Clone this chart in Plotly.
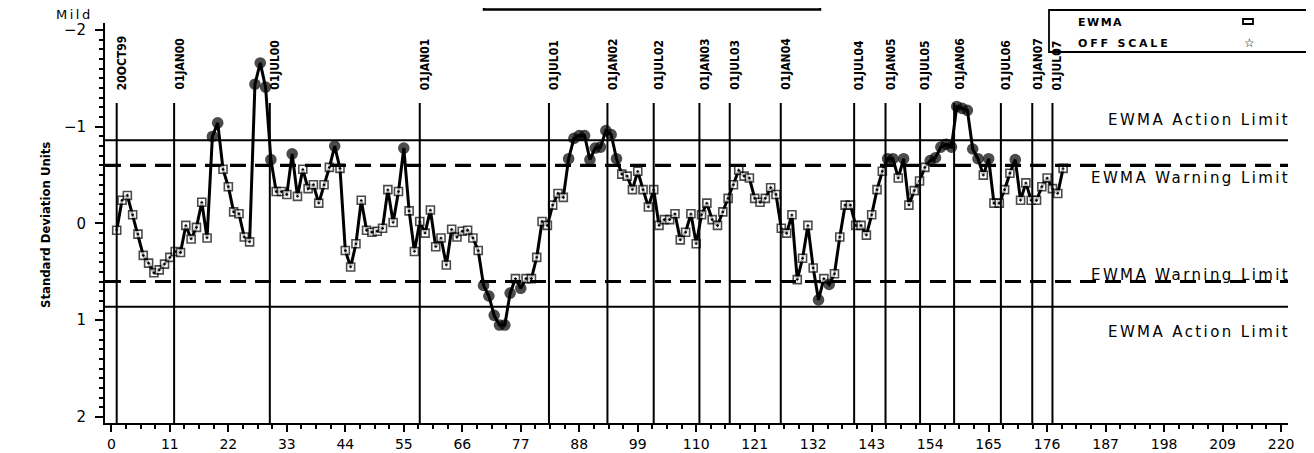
import plotly.graph_objects as go

# ---------------- data ----------------
ewma = [0.07, -0.24, -0.29, -0.09, 0.11, 0.33, 0.41, 0.51, 0.48, 0.42,
        0.35, 0.29, 0.30, 0.02, 0.16, 0.04, -0.22, 0.15, -0.90, -1.04,
        -0.56, -0.38, -0.12, -0.10, 0.14, 0.19, -1.44, -1.66, -1.41, -0.66,
        -0.33, -0.33, -0.30, -0.72, -0.28, -0.56, -0.36, -0.40, -0.21, -0.40,
        -0.58, -0.80, -0.57, 0.28, 0.45, 0.21, -0.24, 0.07, 0.09, 0.08,
        0.05, -0.35, -0.01, -0.33, -0.78, -0.13, 0.29, -0.02, 0.10, -0.14,
        0.24, 0.15, 0.43, 0.06, 0.14, 0.08, 0.07, 0.15, 0.28, 0.64,
        0.75, 0.95, 1.05, 1.05, 0.72, 0.57, 0.67, 0.57, 0.57, 0.35,
        -0.02, 0.02, -0.19, -0.31, -0.27, -0.67, -0.88, -0.91, -0.91, -0.66,
        -0.78, -0.79, -0.96, -0.92, -0.67, -0.51, -0.49, -0.35, -0.54, -0.35,
        -0.17, -0.35, 0.02, -0.04, -0.04, -0.10, 0.17, 0.09, -0.10, 0.21,
        -0.09, -0.21, -0.04, 0.02, -0.12, -0.26, -0.40, -0.55, -0.49, -0.47,
        -0.26, -0.22, -0.26, -0.37, -0.30, 0.05, 0.10, -0.09, 0.58, 0.36,
        0.02, 0.46, 0.79, 0.57, 0.63, 0.52, 0.14, -0.19, -0.19, 0.02,
        0.02, 0.12, -0.09, -0.35, -0.54, -0.67, -0.67, -0.47, -0.67, -0.19,
        -0.34, -0.44, -0.58, -0.65, -0.68, -0.79, -0.82, -0.79, -1.21, -1.19,
        -1.17, -0.77, -0.67, -0.50, -0.67, -0.21, -0.21, -0.35, -0.52, -0.66,
        -0.24, -0.42, -0.24, -0.24, -0.38, -0.47, -0.36, -0.31, -0.57]
obs = list(range(1, len(ewma) + 1))

date_labels = ["20OCT99", "01JAN00", "01JUL00", "01JAN01", "01JUL01", "01JAN02",
               "01JUL02", "01JAN03", "01JUL03", "01JAN04", "01JUL04", "01JAN05",
               "01JUL05", "01JAN06", "01JUL06", "01JAN07", "01JUL07"]
date_pos = [1.0, 11.8, 29.8, 58.0, 82.3, 93.3, 102.0, 110.6, 116.3, 125.9,
            139.7, 145.6, 152.1, 158.5, 167.3, 173.2, 177.0]

action_limit = 0.86
warning_limit = 0.60

x_ticks = list(range(0, 221, 11))
y_ticks = [-2, -1, 0, 1, 2]
y_ticktext = ["\u22122", "\u22121", "0", "1", "2"]

# page is offset by the 8px body margin; plot area at page x 105..1288, y 23..423
OFF = 8
PW, PH = 1183, 400
def px(xp):
    return (xp - 105) / PW
def py(yp):
    return (423 - yp) / PH

# ---------------- figure ----------------
symbols = ["circle" if abs(v) > warning_limit else "square-dot" for v in ewma]
colors = ["black" if abs(v) > warning_limit else "white" for v in ewma]
sizes = [10 if abs(v) > warning_limit else 8 for v in ewma]

fig = go.Figure()
fig.add_trace(go.Scatter(
    x=obs, y=ewma, mode="lines+markers",
    line=dict(color="black", width=3),
    marker=dict(symbol=symbols, color=colors, size=sizes,
                line=dict(color="black", width=1.6)),
    showlegend=False, cliponaxis=False))

shapes = []
for lim, dash, w in [(action_limit, "solid", 2), (-action_limit, "solid", 2),
                     (warning_limit, "16px,9px", 3.2), (-warning_limit, "16px,9px", 3.2)]:
    shapes.append(dict(type="line", xref="paper", yref="y", x0=0, x1=1, y0=lim, y1=lim,
                       line=dict(color="black", width=w, dash=dash)))
for p in date_pos:
    shapes.append(dict(type="line", xref="x", yref="paper", x0=p, x1=p, y0=0, y1=py(103),
                       line=dict(color="black", width=2)))
# title box (cut off at top)
shapes.append(dict(type="rect", xref="paper", yref="paper", x0=px(484), x1=px(820),
                   y0=py(9.5), y1=py(-40), line=dict(color="black", width=2.5)))
# legend box
shapes.append(dict(type="rect", xref="paper", yref="paper", x0=px(1049), x1=px(1313),
                   y0=py(52), y1=py(10), line=dict(color="black", width=1.8),
                   fillcolor="white", layer="above"))
# legend square symbol
shapes.append(dict(type="rect", xref="paper", yref="paper", x0=px(1243), x1=px(1253),
                   y0=py(24), y1=py(19), line=dict(color="black", width=1.8), layer="above"))

narrow = "Liberation Sans Narrow, DejaVu Sans Condensed, Arial Narrow, sans-serif"
annotations = []
for lab, p in zip(date_labels, date_pos):
    annotations.append(dict(x=p, y=py(92), xref="x", yref="paper", text=f"<b>{lab}</b>",
                            textangle=-90, xanchor="center", yanchor="bottom", xshift=5,
                            showarrow=False,
                            font=dict(family=narrow, size=12, color="black")))

lim_font = dict(family="DejaVu Sans", size=15, color="black")
def spaced(t, s=1.4):
    return f'<span style="letter-spacing:{s}px">{t}</span>'

for txt, ypix in [("EWMA Action Limit", 120), ("EWMA Warning Limit", 178),
                  ("EWMA Warning Limit", 275), ("EWMA Action Limit", 332)]:
    annotations.append(dict(x=px(1292), y=py(ypix), xref="paper", yref="paper",
                            text=spaced(txt, 2.4), xanchor="right", yanchor="middle",
                            showarrow=False, font=lim_font))

annotations.append(dict(x=px(74), y=py(14), xref="paper", yref="paper",
                        text=spaced("Mild", 2.5), showarrow=False, xanchor="center", yanchor="middle",
                        font=dict(family="DejaVu Sans", size=13, color="black")))
annotations.append(dict(x=px(45), y=py(225), xref="paper", yref="paper",
                        text="<b>Standard Deviation Units</b>", textangle=-90, showarrow=False,
                        xanchor="center", yanchor="middle",
                        font=dict(family=narrow, size=13, color="black")))
leg_font = dict(family="DejaVu Sans", size=11, color="black")
annotations.append(dict(x=px(1076), y=py(22), xref="paper", yref="paper",
                        text=spaced("<b>EWMA</b>", 1.5), showarrow=False, xanchor="left",
                        yanchor="middle", font=leg_font))
annotations.append(dict(x=px(1076), y=py(43), xref="paper", yref="paper",
                        text=spaced("<b>OFF SCALE</b>", 2.8), showarrow=False, xanchor="left",
                        yanchor="middle", font=leg_font))
annotations.append(dict(x=px(1249), y=py(43), xref="paper", yref="paper",
                        text="\u2606", showarrow=False, xanchor="center", yanchor="middle",
                        font=dict(family="DejaVu Sans", size=12, color="black")))

fig.update_layout(
    width=1314 - OFF, height=453 - OFF,
    margin=dict(l=105 - OFF, r=1314 - 1288, t=23 - OFF, b=453 - 423, pad=0,
                autoexpand=False),
    paper_bgcolor="white", plot_bgcolor="white",
    shapes=shapes, annotations=annotations,
    font=dict(family="DejaVu Sans", color="black"),
    xaxis=dict(range=[-1.2, 221.3], tickvals=x_ticks, showgrid=False, zeroline=False,
               automargin=False,
               showline=True, linecolor="black", linewidth=2, ticks="outside",
               ticklen=7, tickwidth=2, tickcolor="black", ticklabelstandoff=0,
               tickfont=dict(family="DejaVu Sans", size=14, color="black"),
               minor=dict(dtick=2.75, tick0=0, ticks="outside", ticklen=4, tickwidth=2,
                          tickcolor="black", showgrid=False)),
    yaxis=dict(range=[2.063, -2.073], tickvals=y_ticks, ticktext=y_ticktext,
               automargin=False,
               showgrid=False, zeroline=False, showline=True, linecolor="black",
               linewidth=2, ticks="outside", ticklen=8, tickwidth=2, tickcolor="black",
               ticklabelstandoff=6,
               tickfont=dict(family="DejaVu Sans", size=15, color="black"),
               minor=dict(dtick=0.1, tick0=0, ticks="outside", ticklen=4, tickwidth=1.5,
                          tickcolor="black", showgrid=False)),
)

fig.write_html("out.html")
